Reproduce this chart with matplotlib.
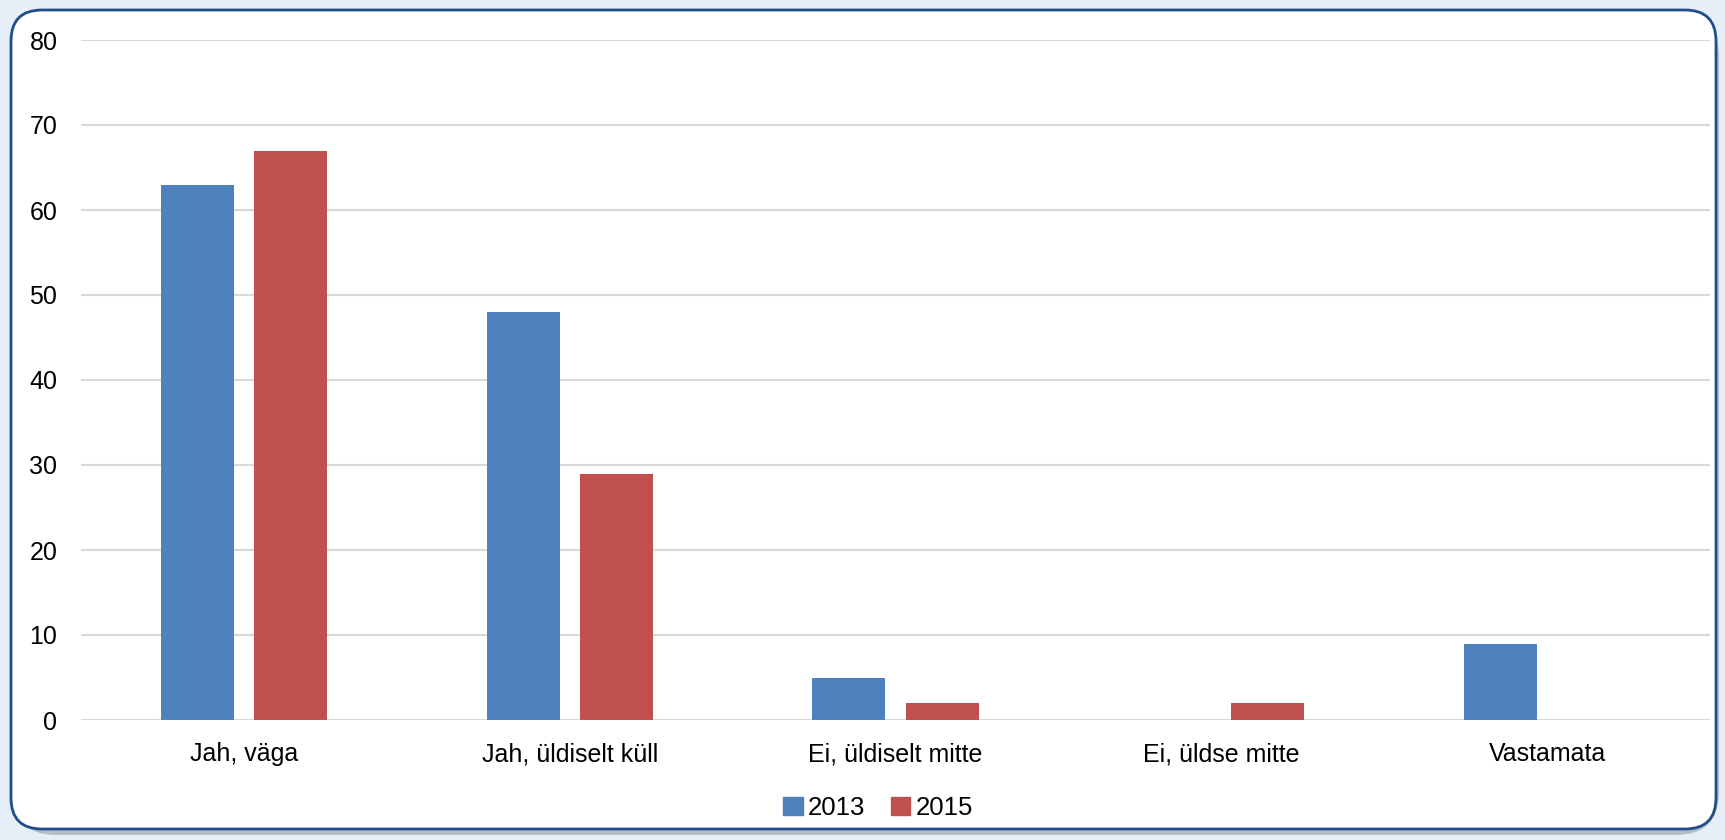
import matplotlib.pyplot as plt
import numpy as np
from matplotlib.patches import FancyBboxPatch, Patch

# Data
categories = ['Jah, väga', 'Jah, üldiselt küll', 'Ei, üldiselt mitte', 'Ei, üldse mitte', 'Vastamata']
years = ['2013', '2015']
values_2013 = [63, 48, 5, 0, 9]
values_2015 = [67, 29, 2, 2, 0]
y_ticks = [0, 10, 20, 30, 40, 50, 60, 70, 80]

blue = '#4f81bd'
red = '#c0504d'

plt.rcParams['font.family'] = ['Liberation Sans', 'DejaVu Sans']

fig = plt.figure(figsize=(17.25, 8.4), dpi=100)
fig.patch.set_facecolor('#e6eef8')

# shadow + rounded white frame (behind the axes)
shadow = FancyBboxPatch((13 / 1725, 5 / 840), 1706 / 1725, 822 / 840,
                        boxstyle='round,pad=0,rounding_size=0.025',
                        transform=fig.transFigure, facecolor='#9a9a9a', edgecolor='none',
                        alpha=0.6, mutation_aspect=1725 / 840, zorder=-2)
fig.patches.append(shadow)
frame = FancyBboxPatch((11 / 1725, 11 / 840), 1705 / 1725, 819 / 840,
                       boxstyle='round,pad=0,rounding_size=0.018',
                       transform=fig.transFigure, facecolor='white', edgecolor='#1f4e8a',
                       linewidth=2, mutation_aspect=1725 / 840, zorder=-1)
fig.patches.append(frame)

ax = fig.add_axes([81 / 1725, 1 - 720 / 840, (1710 - 81) / 1725, 680 / 840])
ax.set_facecolor('none')
ax.set_zorder(1)

x = np.arange(len(categories))
width = 0.224
offset = 0.143
ax.bar(x - offset, values_2013, width, color=blue, zorder=3)
ax.bar(x + offset, values_2015, width, color=red, zorder=3)

ax.set_xlim(-0.5, len(categories) - 0.5)
ax.set_ylim(0, 80)
ax.set_yticks(y_ticks)
ax.set_xticks(x)
ax.set_xticklabels(categories)
ax.tick_params(axis='both', length=0, labelsize=18, colors='black')
ax.tick_params(axis='y', pad=17)
ax.tick_params(axis='x', pad=16)
ax.yaxis.grid(True, color='#d9d9d9', linewidth=1.5)
ax.set_axisbelow(True)
for s in ax.spines.values():
    s.set_visible(False)

handles = [Patch(color=blue, label=years[0]), Patch(color=red, label=years[1])]
fig.legend(handles=handles, loc='center', bbox_to_anchor=(878 / 1725, 1 - 808 / 840),
           ncol=2, frameon=False, fontsize=18.5, handlelength=0.75, handleheight=0.75,
           handletextpad=0.2, columnspacing=1.0)

fig.savefig('out.png', dpi=100, facecolor=fig.get_facecolor())
